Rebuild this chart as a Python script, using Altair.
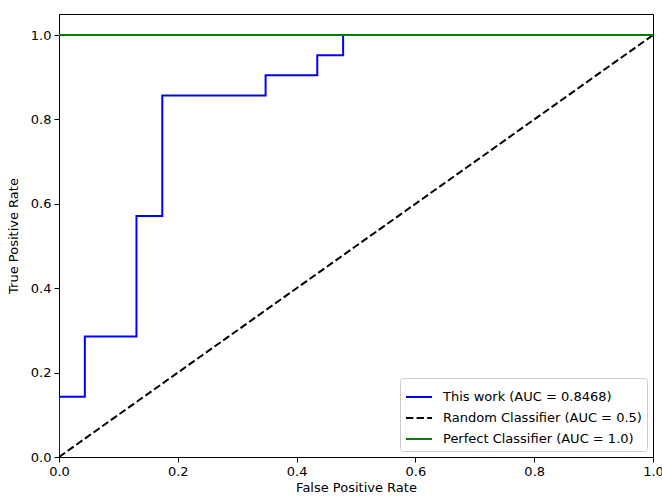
import altair as alt
import pandas as pd

# ROC curve of "This work" (step curve)
roc_fpr = [0.0, 0.0, 0.0435, 0.0435, 0.1304, 0.1304, 0.1739, 0.1739,
           0.3478, 0.3478, 0.4348, 0.4348, 0.4783, 0.4783, 1.0]
roc_tpr = [0.0, 0.1429, 0.1429, 0.2857, 0.2857, 0.5714, 0.5714, 0.8571,
           0.8571, 0.9048, 0.9048, 0.9524, 0.9524, 1.0, 1.0]
random_fpr = [0.0, 1.0]
random_tpr = [0.0, 1.0]
perfect_fpr = [0.0, 1.0]
perfect_tpr = [1.0, 1.0]

series_names = ["This work (AUC = 0.8468)",
                "Random Classifier (AUC = 0.5)",
                "Perfect Classifier (AUC = 1.0)"]
series_colors = ["#0000ff", "#000000", "#008000"]
series_dash = [[1, 0], [7.4, 3.2], [1, 0]]


def frame(xs, ys, name):
    return pd.DataFrame({"fpr": xs, "tpr": ys, "series": name,
                         "order": list(range(len(xs)))})


dfs = [frame(roc_fpr, roc_tpr, series_names[0]),
       frame(random_fpr, random_tpr, series_names[1]),
       frame(perfect_fpr, perfect_tpr, series_names[2])]

FONT = "DejaVu Sans"
FS = 13

x_enc = alt.X("fpr:Q", title="False Positive Rate",
              scale=alt.Scale(domain=[0, 1], nice=False, zero=False),
              axis=alt.Axis(values=[0, 0.2, 0.4, 0.6, 0.8, 1.0], format=".1f"))
y_enc = alt.Y("tpr:Q", title="True Positive Rate",
              scale=alt.Scale(domain=[0, 1.05], nice=False, zero=False),
              axis=alt.Axis(values=[0, 0.2, 0.4, 0.6, 0.8, 1.0], format=".1f"))
color_enc = alt.Color("series:N",
                      scale=alt.Scale(domain=series_names, range=series_colors),
                      legend=alt.Legend(title=None, orient="bottom-right"))
dash_enc = alt.StrokeDash("series:N",
                          scale=alt.Scale(domain=series_names, range=series_dash),
                          legend=alt.Legend(title=None, orient="bottom-right"))

layers = []
for d in dfs:
    layers.append(
        alt.Chart(d).mark_line(strokeWidth=2, clip=True).encode(
            x=x_enc, y=y_enc, color=color_enc, strokeDash=dash_enc,
            order="order:Q")
    )

chart = alt.layer(*layers).properties(
    width=594, height=443,
    autosize=alt.AutoSizeParams(type="none"),
    padding={"left": 59, "top": 14, "right": 9, "bottom": 39},
).configure_view(
    stroke="black", strokeWidth=1
).configure_axis(
    grid=False, domainColor="black", tickColor="black", tickSize=5,
    labelColor="black", titleColor="black", labelFont=FONT, titleFont=FONT,
    labelFontSize=FS, titleFontSize=FS, titleFontWeight="normal",
    labelPadding=3,
).configure_axisX(
    titlePadding=3, labelFlush=False
).configure_axisY(
    titlePadding=10, labelFlush=False
).configure_legend(
    labelFont=FONT, labelFontSize=FS, labelColor="black",
    symbolType="stroke", symbolSize=676, symbolStrokeWidth=2,
    rowPadding=0, padding=5, labelOffset=10, offset=6, strokeColor="#cccccc",
    fillColor="white", cornerRadius=3, labelLimit=400,
)

chart.save("out.html", embed_options={"renderer": "svg", "actions": False})
